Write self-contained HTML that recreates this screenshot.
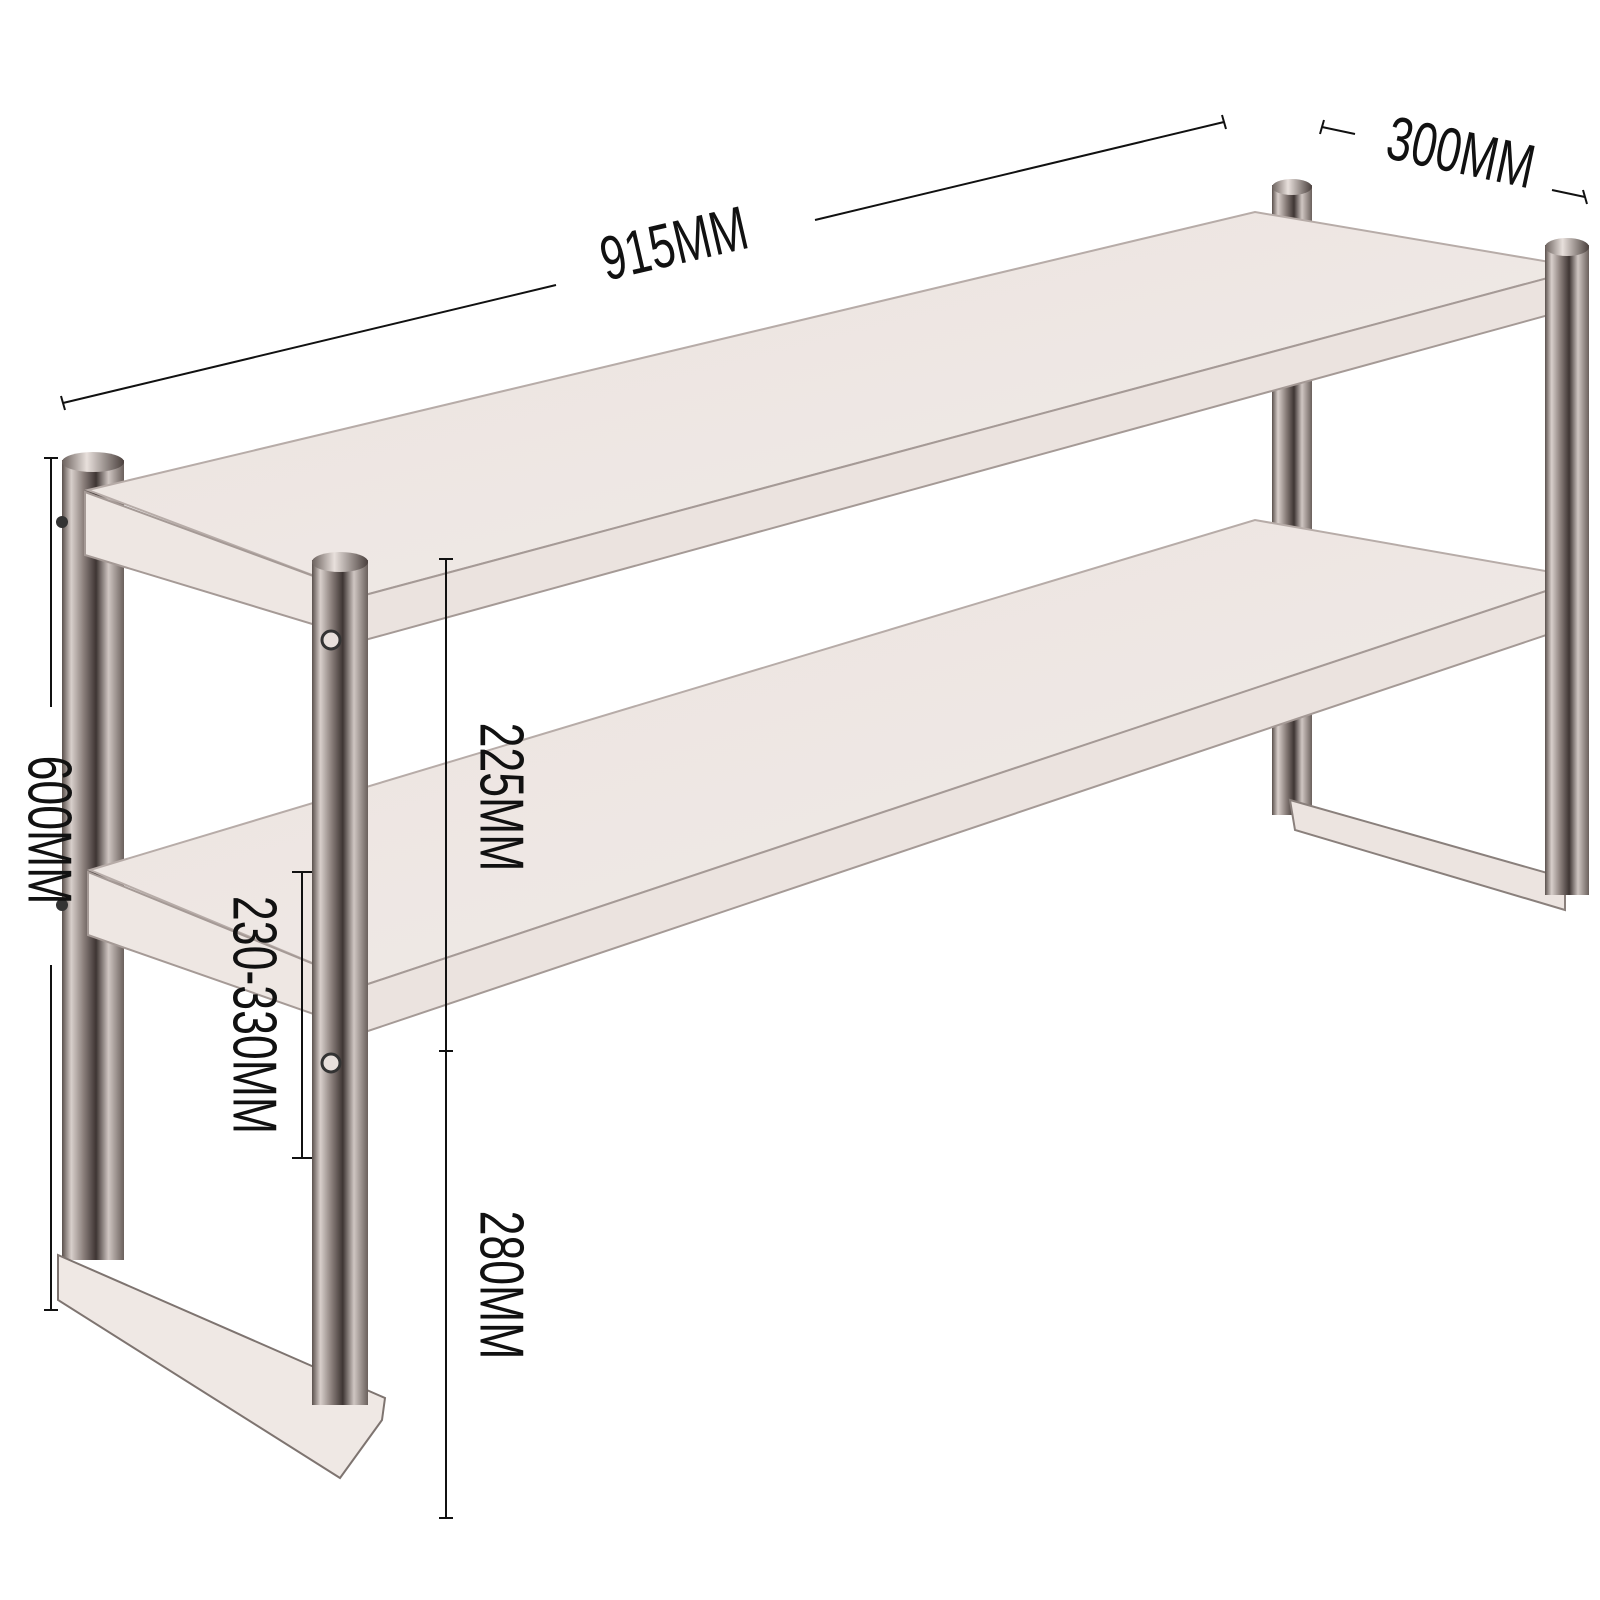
<!DOCTYPE html>
<html><head><meta charset="utf-8"><style>
html,body{margin:0;padding:0;background:#fff;}
svg{display:block;}
text{font-family:"Liberation Sans Narrow","Liberation Sans",sans-serif;fill:#111;}
</style></head><body>
<svg width="1600" height="1600" viewBox="0 0 1600 1600" xmlns="http://www.w3.org/2000/svg">
<defs>
<linearGradient id="post" x1="0" x2="1" y1="0" y2="0">
<stop offset="0" stop-color="#5a504c"/><stop offset="0.15" stop-color="#d8cfcb"/>
<stop offset="0.35" stop-color="#8a7f7b"/><stop offset="0.55" stop-color="#3e3533"/>
<stop offset="0.75" stop-color="#cfc6c2"/><stop offset="1" stop-color="#6a605c"/>
</linearGradient>
<linearGradient id="surf" x1="0" x2="1" y1="0" y2="1">
<stop offset="0" stop-color="#ebe3df"/><stop offset="1" stop-color="#f1ebe8"/>
</linearGradient>
<linearGradient id="cap" x1="0" x2="1"><stop offset="0" stop-color="#6b615d"/><stop offset="0.4" stop-color="#e8e0dc"/><stop offset="1" stop-color="#4a403d"/></linearGradient>
</defs>

<!-- back posts -->
<rect x="1272" y="185" width="40" height="630" fill="url(#post)"/>
<ellipse cx="1292" cy="187" rx="20" ry="8" fill="url(#cap)"/>
<rect x="62" y="460" width="62" height="800" fill="url(#post)"/>
<ellipse cx="93" cy="462" rx="31" ry="10" fill="url(#cap)"/>

<!-- right foot -->
<polygon points="1290,800 1565,878 1565,910 1295,830" fill="#ece4e0" stroke="#8a807c" stroke-width="2"/>

<!-- top shelf -->
<polygon points="88,490 1255,212 1585,268 365,595" fill="url(#surf)" stroke="#b7aca8" stroke-width="2"/>
<polygon points="365,595 1585,268 1585,305 365,640" fill="#ebe3df" stroke="#a59a96" stroke-width="2"/>
<polygon points="85,492 365,595 365,640 85,555" fill="#eee7e3" stroke="#a59a96" stroke-width="2"/>

<!-- bottom shelf -->
<polygon points="90,870 1255,520 1585,578 365,985" fill="url(#surf)" stroke="#b7aca8" stroke-width="2"/>
<polygon points="365,985 1585,578 1585,622 365,1032" fill="#ebe3df" stroke="#a59a96" stroke-width="2"/>
<polygon points="88,872 365,985 365,1032 88,935" fill="#eee7e3" stroke="#a59a96" stroke-width="2"/>

<!-- left foot -->
<polygon points="58,1255 385,1398 382,1420 340,1478 58,1300" fill="#efe8e4" stroke="#7e7470" stroke-width="2"/>

<!-- front posts -->
<rect x="1545" y="245" width="44" height="650" fill="url(#post)"/>
<ellipse cx="1567" cy="247" rx="22" ry="9" fill="url(#cap)"/>
<rect x="312" y="560" width="56" height="845" fill="url(#post)"/>
<ellipse cx="340" cy="562" rx="28" ry="10" fill="url(#cap)"/>
<circle cx="331" cy="640" r="9" fill="#e8e0dc" stroke="#333" stroke-width="3"/>
<circle cx="331" cy="1063" r="9" fill="#e8e0dc" stroke="#333" stroke-width="3"/>
<circle cx="62" cy="522" r="6" fill="#333"/>
<circle cx="62" cy="905" r="6" fill="#333"/>

<!-- dimension lines -->
<g stroke="#111" stroke-width="2" fill="none">
<line x1="63" y1="403" x2="556" y2="285"/>
<line x1="815" y1="220" x2="1224" y2="122"/>
<line x1="61" y1="396" x2="65" y2="410"/><line x1="1222" y1="115" x2="1226" y2="129"/>
<line x1="1322" y1="127" x2="1355" y2="134"/><line x1="1552" y1="190" x2="1585" y2="197"/>
<line x1="1324" y1="120" x2="1320" y2="134"/><line x1="1583" y1="190" x2="1587" y2="204"/>
<line x1="51" y1="458" x2="51" y2="707"/><line x1="51" y1="965" x2="51" y2="1310"/>
<line x1="44" y1="458" x2="58" y2="458"/><line x1="44" y1="1310" x2="58" y2="1310"/>
<line x1="446" y1="559" x2="446" y2="1518"/>
<line x1="439" y1="559" x2="453" y2="559"/><line x1="439" y1="1051" x2="453" y2="1051"/><line x1="439" y1="1518" x2="453" y2="1518"/>
<line x1="302" y1="872" x2="302" y2="1158"/>
<line x1="292" y1="872" x2="312" y2="872"/><line x1="292" y1="1158" x2="312" y2="1158"/>
</g>

<g font-size="62">
<text transform="translate(675,248) rotate(-13) scale(0.72,1)" text-anchor="middle" dominant-baseline="middle">915MM</text>
<text transform="translate(1460,157) rotate(12) scale(0.72,1)" text-anchor="middle" dominant-baseline="middle">300MM</text>
<text transform="translate(45,830) rotate(90) scale(0.72,1)" text-anchor="middle" dominant-baseline="middle">600MM</text>
<text transform="translate(497,797) rotate(90) scale(0.72,1)" text-anchor="middle" dominant-baseline="middle">225MM</text>
<text transform="translate(497,1285) rotate(90) scale(0.72,1)" text-anchor="middle" dominant-baseline="middle">280MM</text>
<text transform="translate(250,1015) rotate(90) scale(0.72,1)" text-anchor="middle" dominant-baseline="middle">230-330MM</text>
</g>
</svg>
</body></html>
